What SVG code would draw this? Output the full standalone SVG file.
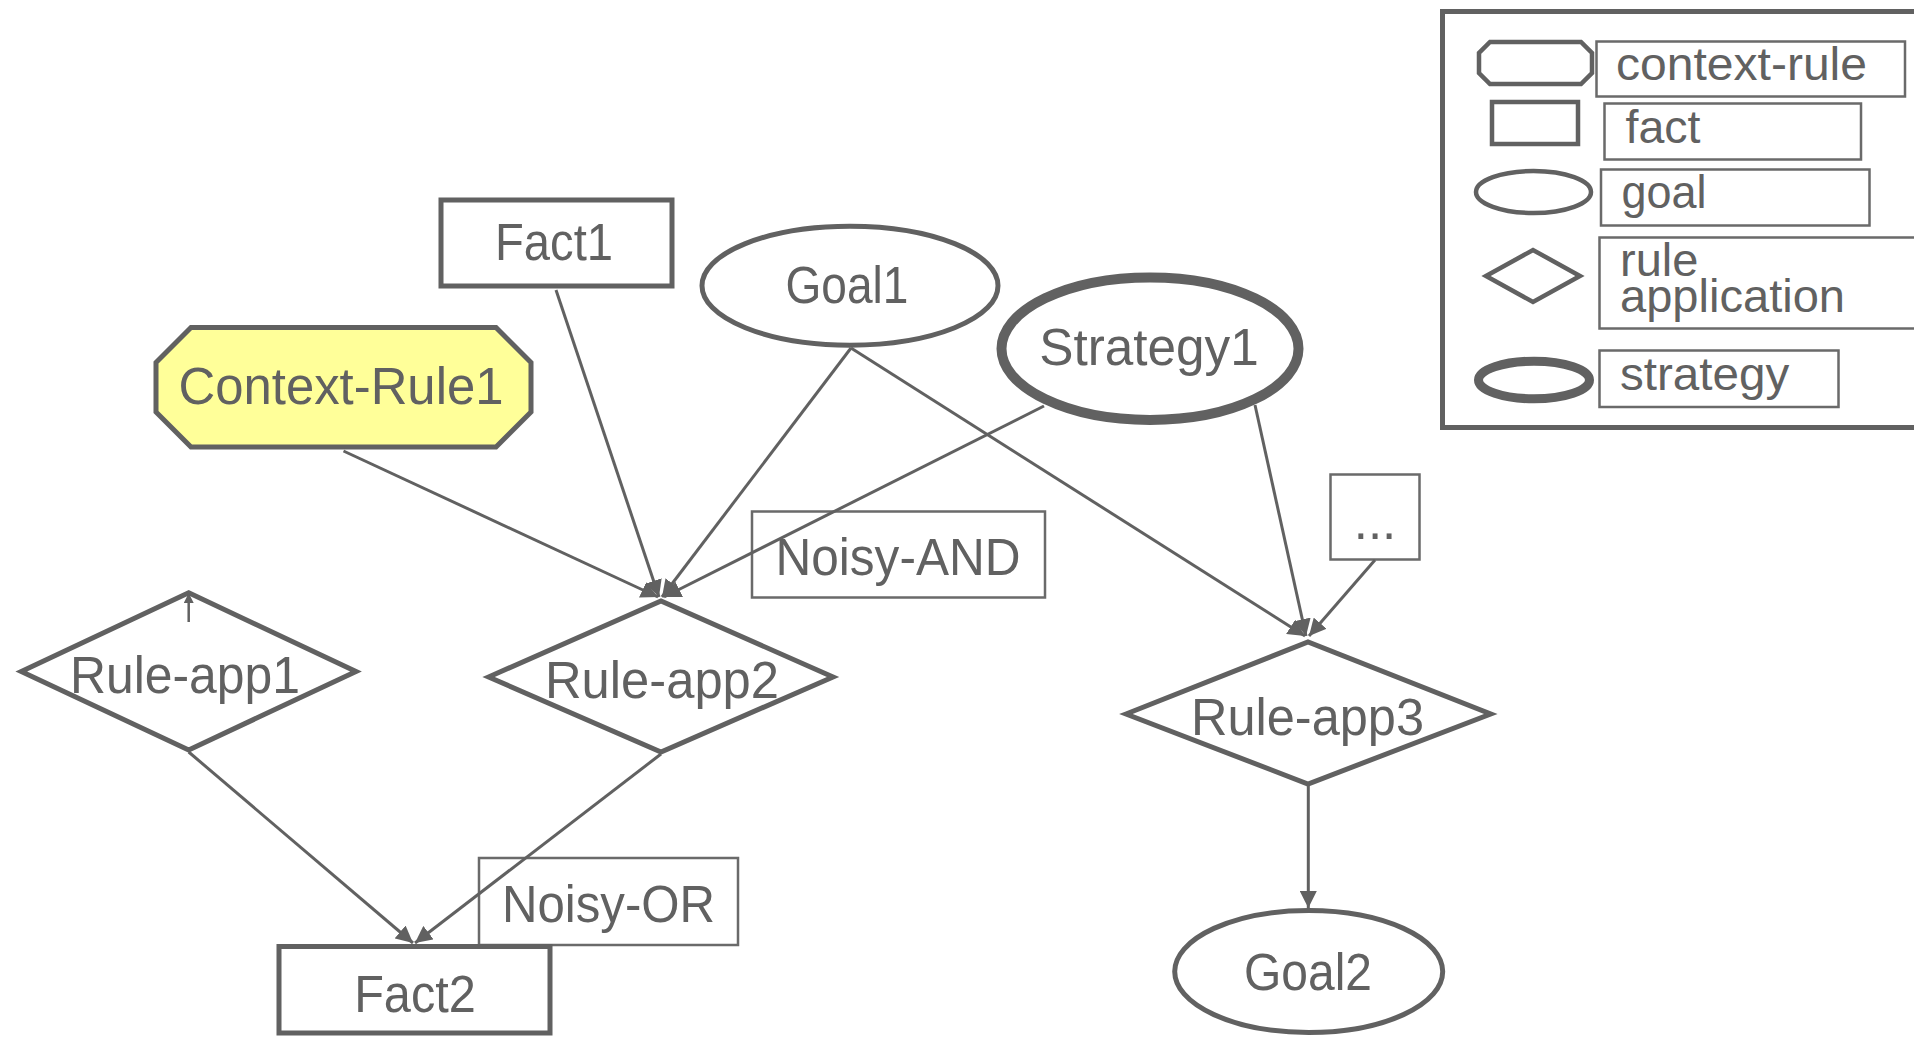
<svg xmlns="http://www.w3.org/2000/svg" width="1914" height="1037" viewBox="0 0 1914 1037">
  <style>
    .shape { fill: #ffffff; stroke: #616161; stroke-width: 5; }
    .thin { fill: none; stroke: #6a6a6a; stroke-width: 2.5; }
    .lbl { font-family: "Liberation Sans", Arial, sans-serif; font-size: 51px; fill: #616161; text-anchor: middle; }
    .leg { font-family: "Liberation Sans", Arial, sans-serif; font-size: 47px; fill: #616161; }
    .edge { fill: none; stroke: #616161; stroke-width: 3; marker-end: url(#arrow); }
  </style>
  <defs>
    <marker id="arrow" viewBox="0 0 10 10" refX="10" refY="5" markerWidth="17" markerHeight="17" markerUnits="userSpaceOnUse" orient="auto">
      <path d="M0,0 L10,5 L0,10 z" fill="#616161"/>
    </marker>
    <marker id="arrow-small" viewBox="0 0 10 10" refX="10" refY="5" markerWidth="11" markerHeight="10" markerUnits="userSpaceOnUse" orient="auto">
      <path d="M0,0 L10,5 L0,10 z" fill="#616161"/>
    </marker>
  </defs>

  <rect width="1914" height="1037" fill="#ffffff"/>

  <!-- combination-rule annotations -->
  <g id="noisy-and">
    <rect class="thin" x="752" y="511.5" width="293" height="86"/>
    <text class="lbl" x="898" y="575" textLength="245" lengthAdjust="spacingAndGlyphs">Noisy-AND</text>
  </g>
  <g id="noisy-or">
    <rect class="thin" x="479" y="858" width="259" height="87"/>
    <text class="lbl" x="608.5" y="921.7" textLength="213" lengthAdjust="spacingAndGlyphs">Noisy-OR</text>
  </g>

  <!-- nodes -->
  <g id="fact1">
    <rect class="shape" x="441" y="200" width="231" height="86"/>
    <text class="lbl" x="554" y="260" textLength="118" lengthAdjust="spacingAndGlyphs">Fact1</text>
  </g>
  <g id="context-rule1">
    <polygon class="shape" style="fill:#ffff99" points="191,327.5 496,327.5 531,362.5 531,412 496,447 191,447 156,412 156,362.5"/>
    <text class="lbl" x="341" y="404" textLength="325" lengthAdjust="spacingAndGlyphs">Context-Rule1</text>
  </g>
  <g id="goal1">
    <ellipse class="shape" cx="850" cy="285.7" rx="148" ry="59.5"/>
    <text class="lbl" x="847" y="302.7" textLength="123" lengthAdjust="spacingAndGlyphs">Goal1</text>
  </g>
  <g id="strategy1">
    <ellipse class="shape" style="stroke-width:10" cx="1150" cy="348.7" rx="148.5" ry="71.3"/>
    <text class="lbl" x="1149" y="365" textLength="219.5" lengthAdjust="spacingAndGlyphs">Strategy1</text>
  </g>
  <g id="more-inputs">
    <rect class="thin" x="1330.5" y="474.5" width="89" height="85"/>
    <text class="lbl" x="1375" y="539">...</text>
  </g>
  <g id="rule-app1">
    <polygon class="shape" points="21.3,671.4 188.7,592.8 356,671.4 188.7,750"/>
    <text class="lbl" x="185" y="692.7" textLength="230" lengthAdjust="spacingAndGlyphs">Rule-app1</text>
  </g>
  <g id="rule-app2">
    <polygon class="shape" points="488.6,677 661,601 833,677 661,752"/>
    <text class="lbl" x="662" y="697.7" textLength="234" lengthAdjust="spacingAndGlyphs">Rule-app2</text>
  </g>
  <g id="rule-app3">
    <polygon class="shape" points="1126,714 1308,642 1490.7,714 1308,784"/>
    <text class="lbl" x="1307.5" y="735" textLength="233" lengthAdjust="spacingAndGlyphs">Rule-app3</text>
  </g>
  <g id="fact2">
    <rect class="shape" x="279" y="946.5" width="271" height="86.5"/>
    <text class="lbl" x="415" y="1011.7" textLength="121.7" lengthAdjust="spacingAndGlyphs">Fact2</text>
  </g>
  <g id="goal2">
    <ellipse class="shape" cx="1308.7" cy="971.5" rx="134" ry="61"/>
    <text class="lbl" x="1308" y="990" textLength="128" lengthAdjust="spacingAndGlyphs">Goal2</text>
  </g>

  <!-- connectors -->
  <g id="connectors">
    <line class="edge" x1="343.5" y1="451" x2="658" y2="597"/>
    <line class="edge" x1="556" y1="290" x2="659" y2="597"/>
    <line class="edge" x1="851" y1="348" x2="662" y2="597"/>
    <line class="edge" x1="1044" y1="406" x2="664" y2="597"/>
    <line class="edge" x1="851" y1="348" x2="1305" y2="636"/>
    <line class="edge" x1="1255" y1="405" x2="1306" y2="636"/>
    <line class="edge" x1="1375" y1="560" x2="1309" y2="636"/>
    <line class="edge" x1="188.7" y1="752" x2="413" y2="943"/>
    <line class="edge" x1="661" y1="754" x2="415" y2="943"/>
    <line class="edge" x1="1308.3" y1="786" x2="1308.3" y2="908"/>
    <line class="edge" style="stroke-width:2.5;marker-end:url(#arrow-small)" x1="188.7" y1="622" x2="188.7" y2="593"/>
  </g>

  <!-- legend -->
  <g id="legend">
    <rect x="1442.5" y="11.5" width="520" height="416" fill="none" stroke="#616161" stroke-width="5"/>
    <polygon fill="none" stroke="#616161" stroke-width="4.5" points="1490,42 1581,42 1592,53 1592,73 1581,84 1490,84 1479,73 1479,53"/>
    <rect class="thin" x="1596.5" y="41.5" width="308.5" height="55"/>
    <text class="leg" x="1616" y="80" textLength="251" lengthAdjust="spacingAndGlyphs">context-rule</text>

    <rect x="1492" y="102" width="86" height="42" fill="none" stroke="#616161" stroke-width="4.5"/>
    <rect class="thin" x="1604.5" y="103.5" width="256.5" height="56"/>
    <text class="leg" x="1625.5" y="142.7" textLength="75" lengthAdjust="spacingAndGlyphs">fact</text>

    <ellipse cx="1533.5" cy="192" rx="57.5" ry="21" fill="none" stroke="#616161" stroke-width="4.5"/>
    <rect class="thin" x="1601" y="169.5" width="268.5" height="56"/>
    <text class="leg" x="1621.5" y="208" textLength="85" lengthAdjust="spacingAndGlyphs">goal</text>

    <polygon fill="none" stroke="#616161" stroke-width="4.5" points="1486,276 1533,250 1580,276 1533,302"/>
    <rect class="thin" x="1599.5" y="237.5" width="330" height="91"/>
    <text class="leg" x="1620" y="276">rule</text>
    <text class="leg" x="1620" y="311.7" textLength="225" lengthAdjust="spacingAndGlyphs">application</text>

    <ellipse cx="1534" cy="380" rx="55.5" ry="18.8" fill="none" stroke="#616161" stroke-width="9"/>
    <rect class="thin" x="1599.5" y="350.5" width="239" height="56.5"/>
    <text class="leg" x="1620" y="390" textLength="169.3" lengthAdjust="spacingAndGlyphs">strategy</text>
  </g>
</svg>
